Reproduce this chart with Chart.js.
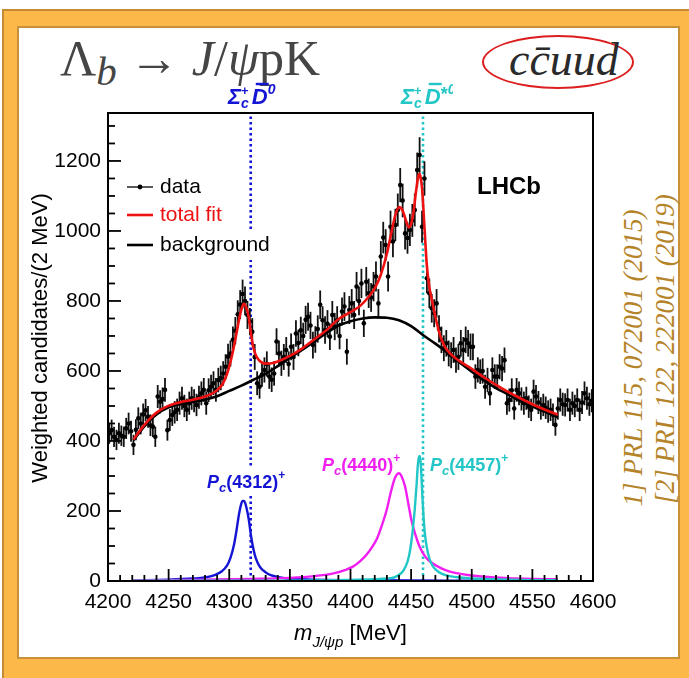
<!DOCTYPE html>
<html><head><meta charset="utf-8">
<script src="https://cdn.jsdelivr.net/npm/chart.js@4.4.0/dist/chart.umd.min.js"></script>
<style>
html,body{margin:0;padding:0;background:#fff;}
#wrap{position:relative;width:689px;height:678px;overflow:hidden;background:#fff;}
#outer{position:absolute;left:2px;top:9px;width:690px;height:675px;background:#FCB94A;border-top:2px solid #c68a33;border-left:2px solid #c68a33;box-sizing:border-box;}
#panel{position:absolute;left:17px;top:26px;width:663px;height:633px;background:#fff;border:2px solid #c79039;box-sizing:border-box;}
#chart{position:absolute;left:0;top:0;}
#title{position:absolute;left:60px;top:28px;font-family:'Liberation Serif','DejaVu Serif',serif;font-size:50px;line-height:60px;color:#454545;white-space:nowrap;}
#title .sub{font-style:italic;font-size:41px;position:relative;top:10px;}
#ellipse{position:absolute;left:482px;top:35px;width:152px;height:54px;border:2.5px solid #dc1e1e;border-radius:50%;box-sizing:border-box;}
#quark{position:absolute;left:509px;top:32px;font-family:'Liberation Serif','DejaVu Serif',serif;font-style:italic;font-size:46px;line-height:56px;color:#2a2a2a;white-space:nowrap;}
.ref{position:absolute;width:340px;height:30px;line-height:30px;font-family:'Liberation Serif','DejaVu Serif',serif;font-style:italic;font-size:27px;color:#b5842a;white-space:nowrap;text-align:center;transform:rotate(-90deg);}
</style></head>
<body>
<div id="wrap">
  <div id="outer"></div>
  <div id="panel"></div>
  <div id="title">Λ<span class="sub">b</span> → <i>J</i>/<i>ψ</i>pK</div>
  <div id="ellipse"></div>
  <div id="quark">cc̄uud</div>
  <div class="ref" style="left:463px;top:343px;">1] PRL 115, 072001 (2015)</div>
  <div class="ref" style="left:495px;top:334px;">[2] PRL 122, 222001 (2019)</div>
  <canvas id="chart" width="689" height="678"></canvas>
</div>
<script>
// ---------------- data ----------------
const binStart = 4201;      // first bin centre [MeV]
const binWidth = 2;         // MeV
const dataCounts = [
  422, 431, 412, 403, 422, 415, 412, 436, 450, 428,
  389, 432, 465, 450, 476, 488, 469, 445, 441, 412,
  527, 512, 520, 546, 431, 460, 474, 482, 489, 508,
  522, 500, 489, 508, 522, 515, 503, 525, 536, 546,
  508, 545, 555, 565, 546, 574, 580, 593, 612, 641,
  650, 689, 715, 762, 790, 820, 800, 760, 741, 712,
  640, 565, 555, 590, 603, 620, 584, 575, 593, 684,
  650, 622, 640, 660, 620, 669, 640, 707, 680, 716,
  700, 746, 755, 730, 674, 690, 720, 789, 745, 717,
  735, 698, 760, 727, 745, 700, 770, 784, 655, 774,
  793, 760, 841, 800, 850, 736, 855, 822, 810, 841,
  870, 793, 927, 981, 960, 870, 1012, 970, 1017, 1060,
  1131, 1087, 993, 980, 1003, 1030, 1060, 1174, 1217, 1012,
  1150, 865, 822, 779, 765, 793, 720, 689, 665, 679,
  650, 645, 660, 631, 640, 679, 660, 689, 679, 669,
  669, 584, 603, 598, 600, 555, 574, 536, 603, 584,
  584, 612, 607, 631, 508, 517, 545, 493, 546, 536,
  520, 508, 522, 498, 489, 541, 527, 510, 493, 503,
  495, 484, 489, 475, 446, 493, 517, 505, 503, 517,
  489, 508, 500, 517, 489, 510, 536, 522, 505, 515
];
const dataErrors = [
  30, 30, 29, 29, 30, 29, 29, 30, 31, 30,
  29, 30, 31, 31, 31, 32, 31, 31, 30, 29,
  33, 33, 33, 34, 30, 31, 31, 32, 32, 33,
  33, 32, 32, 33, 33, 33, 32, 33, 34, 34,
  33, 34, 34, 34, 34, 35, 35, 35, 36, 37,
  37, 38, 39, 40, 41, 41, 41, 40, 39, 39,
  37, 34, 34, 35, 36, 36, 35, 35, 35, 38,
  37, 36, 37, 37, 36, 38, 37, 38, 38, 39,
  38, 40, 40, 39, 38, 38, 39, 41, 40, 39,
  39, 38, 40, 39, 40, 38, 40, 41, 37, 40,
  41, 40, 42, 41, 42, 39, 42, 42, 41, 42,
  43, 41, 44, 45, 45, 43, 46, 45, 46, 47,
  49, 48, 46, 45, 46, 47, 47, 50, 51, 46,
  49, 43, 42, 41, 40, 41, 39, 38, 37, 38,
  37, 37, 37, 36, 37, 38, 37, 38, 38, 38,
  38, 35, 36, 35, 36, 34, 35, 34, 36, 35,
  35, 36, 36, 36, 33, 33, 34, 32, 34, 34,
  33, 33, 33, 32, 32, 34, 33, 33, 32, 32,
  32, 32, 32, 32, 31, 32, 33, 33, 33, 33,
  32, 33, 32, 33, 32, 33, 34, 33, 33, 33
];

const totalFitMass = [4221, 4230, 4240, 4250, 4260, 4270, 4280, 4288, 4294, 4298, 4302, 4305, 4308, 4310, 4312, 4314, 4316, 4318, 4320, 4323, 4326, 4330, 4335, 4340, 4350, 4360, 4370, 4380, 4390, 4400, 4408, 4415, 4420, 4425, 4430, 4434, 4437, 4440, 4443, 4446, 4448, 4450, 4452, 4454, 4456, 4457, 4458, 4459, 4460, 4461, 4462, 4463, 4465, 4467, 4470, 4474, 4478, 4482, 4490, 4500, 4510, 4520, 4530, 4540, 4550, 4560, 4571];
const totalFit = [404, 446, 481, 501, 511, 518, 527, 540, 560, 590, 640, 690, 745, 775, 792, 782, 755, 705, 665, 638, 626, 621, 622, 627, 643, 664, 690, 716, 748, 768, 786, 812, 836, 875, 935, 1000, 1045, 1068, 1058, 1027, 1010, 1020, 1055, 1112, 1158, 1163, 1150, 1122, 1070, 1010, 952, 900, 840, 805, 755, 700, 668, 650, 628, 606, 582, 560, 540, 522, 505, 490, 475];

const backgroundMass = [4221, 4230, 4240, 4250, 4260, 4270, 4280, 4290, 4300, 4310, 4320, 4330, 4340, 4350, 4360, 4370, 4380, 4390, 4400, 4410, 4420, 4430, 4440, 4450, 4460, 4470, 4480, 4490, 4500, 4510, 4520, 4530, 4540, 4550, 4560, 4571];
const backgroundFit = [402, 442, 476, 496, 506, 512, 518, 528, 543, 558, 575, 592, 614, 638, 660, 684, 708, 730, 742, 750, 753, 752, 745, 728, 702, 678, 652, 624, 598, 573, 551, 533, 514, 498, 484, 468];

const pc4312Mass = [4221, 4250, 4270, 4280, 4288, 4294, 4298, 4301, 4304, 4306, 4308, 4310, 4311, 4312, 4313, 4314, 4316, 4318, 4320, 4322, 4325, 4328, 4332, 4338, 4346, 4360, 4380, 4420, 4480, 4571];
const pc4312 = [2, 4, 7, 10, 17, 28, 43, 66, 105, 145, 190, 222, 229, 229, 224, 212, 178, 128, 90, 64, 42, 30, 20, 13, 8, 5, 3, 2, 1, 0.5];

const pc4440Mass = [4221, 4280, 4320, 4350, 4370, 4386, 4396, 4402, 4408, 4413, 4418, 4422, 4426, 4430, 4433, 4436, 4438, 4440, 4442, 4445, 4448, 4450, 4453, 4457, 4462, 4468, 4475, 4482, 4495, 4510, 4530, 4550, 4571];
const pc4440 = [2, 4, 6, 9, 14, 22, 32, 41, 57, 74, 98, 122, 160, 205, 250, 288, 303, 308, 300, 270, 215, 178, 138, 98, 68, 50, 36, 27, 18, 12, 8, 6, 5];

const pc4457Mass = [4221, 4350, 4400, 4420, 4430, 4436, 4441, 4444, 4447, 4449, 4451, 4453, 4454.5, 4455.5, 4456.3, 4457, 4457.7, 4458.5, 4459.3, 4460.3, 4461.5, 4463, 4465, 4468, 4473, 4479, 4490, 4510, 4540, 4571];
const pc4457 = [0.5, 1, 3, 5, 7, 10, 20, 32, 55, 85, 135, 205, 275, 330, 352, 357, 345, 300, 240, 180, 130, 95, 65, 42, 25, 16, 10, 6, 3, 2];

const thresholdMass = [4317.7, 4459.8];     // Sigma_c+ D0bar, Sigma_c+ D*0bar
const xTickLabels = [4200, 4250, 4300, 4350, 4400, 4450, 4500, 4550, 4600];
const yTickLabels = [0, 200, 400, 600, 800, 1000, 1200];
const xRange = [4200, 4600];
const yRange = [0, 1337];

// -------------- build --------------
const binCenters = dataCounts.map((_, i) => binStart + binWidth * i);
const pts = (xs, ys) => xs.map((x, i) => ({ x: x, y: ys[i] }));

const C_BLUE = '#1414d4', C_MAG = '#f01ef0', C_CYAN = '#22c6c6', C_RED = '#ee1111';
const SANS = '"Liberation Sans", Arial, sans-serif';

function drawParts(ctx, x, y, parts, color, measureOnly) {
  let cx = x;
  for (const p of parts) {
    ctx.font = p.f;
    const w = ctx.measureText(p.t).width;
    if (!measureOnly) {
      ctx.fillStyle = p.c || color;
      ctx.fillText(p.t, cx, y + (p.dy || 0));
      if (p.bar) {
        ctx.save();
        ctx.strokeStyle = p.c || color;
        ctx.lineWidth = 2.4;
        ctx.beginPath();
        ctx.moveTo(cx + 4, y + p.bar);
        ctx.lineTo(cx + w + 1, y + p.bar);
        ctx.stroke();
        ctx.restore();
      }
    }
    if (!p.noadv) cx += w + (p.gap || 0);
  }
  return cx - x;
}

const decor = {
  id: 'decor',
  beforeDatasetDraw(chart, args) {
    if (args.index !== 0) return;
    const { ctx, scales: { x, y } } = chart;
    ctx.save();
    ctx.strokeStyle = '#111';
    ctx.lineWidth = 1.8;
    binCenters.forEach((m, i) => {
      const px = x.getPixelForValue(m);
      ctx.beginPath();
      ctx.moveTo(px, y.getPixelForValue(dataCounts[i] - dataErrors[i]));
      ctx.lineTo(px, y.getPixelForValue(dataCounts[i] + dataErrors[i]));
      ctx.stroke();
    });
    ctx.restore();
  },
  afterDatasetsDraw(chart) {
    const { ctx, chartArea: a, scales: { x, y } } = chart;
    ctx.save();
    // frame
    ctx.strokeStyle = '#000';
    ctx.lineWidth = 2;
    ctx.strokeRect(a.left, a.top, a.right - a.left, a.bottom - a.top);
    // ticks (inside)
    ctx.lineWidth = 1.8;
    for (let v = xRange[0]; v <= xRange[1]; v += 10) {
      const px = x.getPixelForValue(v);
      const len = (v % 50 === 0) ? 12 : 6;
      ctx.beginPath(); ctx.moveTo(px, a.bottom); ctx.lineTo(px, a.bottom - len); ctx.stroke();
    }
    for (let v = 0; v <= yRange[1]; v += 50) {
      const py = y.getPixelForValue(v);
      const len = (v % 200 === 0) ? 13 : 7;
      ctx.beginPath(); ctx.moveTo(a.left, py); ctx.lineTo(a.left + len, py); ctx.stroke();
    }
    // legend
    ctx.textBaseline = 'middle';
    ctx.textAlign = 'left';
    ctx.font = '21px ' + SANS;
    ctx.fillStyle = '#fff';
    ctx.fillRect(157, 232, 120, 28);
    ctx.strokeStyle = '#222'; ctx.lineWidth = 1.5;
    ctx.beginPath(); ctx.moveTo(127, 187); ctx.lineTo(153, 187); ctx.stroke();
    ctx.fillStyle = '#000';
    ctx.beginPath(); ctx.arc(140, 187, 2.4, 0, Math.PI * 2); ctx.fill();
    ctx.fillText('data', 160, 187);
    ctx.strokeStyle = C_RED; ctx.lineWidth = 2.6;
    ctx.beginPath(); ctx.moveTo(127, 215); ctx.lineTo(153, 215); ctx.stroke();
    ctx.fillStyle = C_RED; ctx.fillText('total fit', 160, 215);
    ctx.strokeStyle = '#000'; ctx.lineWidth = 2.6;
    ctx.beginPath(); ctx.moveTo(127, 245); ctx.lineTo(153, 245); ctx.stroke();
    ctx.fillStyle = '#000'; ctx.fillText('background', 160, 245);
    // LHCb
    ctx.font = 'bold 24px ' + SANS;
    ctx.fillText('LHCb', 477, 187);
    // Pc labels
    ctx.textBaseline = 'alphabetic';
    const pcParts = (num) => [
      { t: 'P', f: 'bold italic 18px ' + SANS },
      { t: 'c', f: 'bold italic 13px ' + SANS, dy: 4 },
      { t: '(' + num + ')', f: 'bold 18px ' + SANS },
      { t: '+', f: 'bold 12px ' + SANS, dy: -9 }
    ];
    ctx.fillStyle = '#fff';
    ctx.fillRect(205, 468, 80, 25);
    drawParts(ctx, 207, 488, pcParts('4312'), C_BLUE);
    drawParts(ctx, 322, 471, pcParts('4440'), C_MAG);
    drawParts(ctx, 430, 471, pcParts('4457'), C_CYAN);
    ctx.restore();
  },
  afterDraw(chart) {
    const { ctx, chartArea: a } = chart;
    ctx.save();
    ctx.textBaseline = 'alphabetic';
    ctx.textAlign = 'left';
    // threshold labels above frame
    const thrParts = (star) => {
      const p = [
        { t: 'Σ', f: 'bold italic 22px ' + SANS },
        { t: '+', f: 'bold 13px ' + SANS, dy: -9, noadv: true },
        { t: 'c', f: 'bold italic 14px ' + SANS, dy: 4, gap: 3 },
        { t: 'D', f: 'bold italic 22px ' + SANS, bar: -20 }
      ];
      if (star) p.push({ t: '*', f: 'bold 18px ' + SANS, dy: -4 });
      p.push({ t: '0', f: 'bold italic 14px ' + SANS, dy: -10 });
      return p;
    };
    drawParts(ctx, 228, 104, thrParts(false), C_BLUE);
    ctx.save();
    ctx.beginPath(); ctx.rect(380, 70, 73, 45); ctx.clip();
    drawParts(ctx, 401, 104, thrParts(true), C_CYAN);
    ctx.restore();
    // x-axis title
    const xt = [
      { t: 'm', f: 'italic 22px ' + SANS },
      { t: 'J/ψp', f: 'italic 15px ' + SANS, dy: 7 },
      { t: ' [MeV]', f: '22px ' + SANS }
    ];
    const w = drawParts(ctx, 0, 0, xt, '#000', true);
    drawParts(ctx, (a.left + a.right) / 2 - w / 2, 640, xt, '#000');
    // y-axis title
    ctx.translate(41, 338);
    ctx.rotate(-Math.PI / 2);
    ctx.textAlign = 'center';
    ctx.textBaseline = 'middle';
    ctx.font = '22px ' + SANS;
    ctx.fillStyle = '#000';
    ctx.fillText('Weighted candidates/(2 MeV)', 0, 0);
    ctx.restore();
  }
};

const lineDs = (label, xs, ys, color, width, order) => ({
  label, data: pts(xs, ys), showLine: true, borderColor: color, backgroundColor: color,
  borderWidth: width, pointRadius: 0, cubicInterpolationMode: 'monotone', fill: false, order
});

new Chart(document.getElementById('chart').getContext('2d'), {
  type: 'scatter',
  data: {
    datasets: [
      { label: 'data', data: pts(binCenters, dataCounts), pointRadius: 2.3, pointBackgroundColor: '#000',
        pointBorderWidth: 0, showLine: false, order: 8 },
      lineDs('total fit', totalFitMass, totalFit, C_RED, 2.6, 1),
      lineDs('background', backgroundMass, backgroundFit, '#000', 2.6, 6),
      lineDs('Pc(4312)+', pc4312Mass, pc4312, C_BLUE, 2.4, 5),
      lineDs('Pc(4440)+', pc4440Mass, pc4440, C_MAG, 2.4, 4),
      lineDs('Pc(4457)+', pc4457Mass, pc4457, C_CYAN, 2.4, 3),
      { label: 'thr1', data: [{ x: thresholdMass[0], y: yRange[0] }, { x: thresholdMass[0], y: yRange[1] }],
        showLine: true, borderColor: C_BLUE, borderWidth: 2.6, borderDash: [2.5, 3], pointRadius: 0, order: 10 },
      { label: 'thr2', data: [{ x: thresholdMass[1], y: yRange[0] }, { x: thresholdMass[1], y: yRange[1] }],
        showLine: true, borderColor: C_CYAN, borderWidth: 2.6, borderDash: [2.5, 3], pointRadius: 0, order: 10 }
    ]
  },
  options: {
    responsive: false,
    animation: false,
    devicePixelRatio: 1,
    layout: { padding: { top: 113, right: 96, left: 0, bottom: 0 } },
    plugins: { legend: { display: false }, tooltip: { enabled: false }, title: { display: false } },
    scales: {
      x: {
        type: 'linear', min: xRange[0], max: xRange[1],
        afterFit: (s) => { s.height = 97; },
        afterBuildTicks: (s) => { s.ticks = xTickLabels.map(v => ({ value: v })); },
        grid: { display: false, drawTicks: false }, border: { display: false },
        ticks: { color: '#000', font: { family: SANS, size: 21 }, padding: 9, maxRotation: 0, autoSkip: false,
                 callback: (v) => String(v) }
      },
      y: {
        type: 'linear', min: yRange[0], max: yRange[1],
        afterFit: (s) => { s.width = 108; },
        afterBuildTicks: (s) => { s.ticks = yTickLabels.map(v => ({ value: v })); },
        grid: { display: false, drawTicks: false }, border: { display: false },
        ticks: { color: '#000', font: { family: SANS, size: 21 }, padding: 7, autoSkip: false,
                 callback: (v) => String(v) }
      }
    }
  },
  plugins: [decor]
});
</script>
</body></html>
